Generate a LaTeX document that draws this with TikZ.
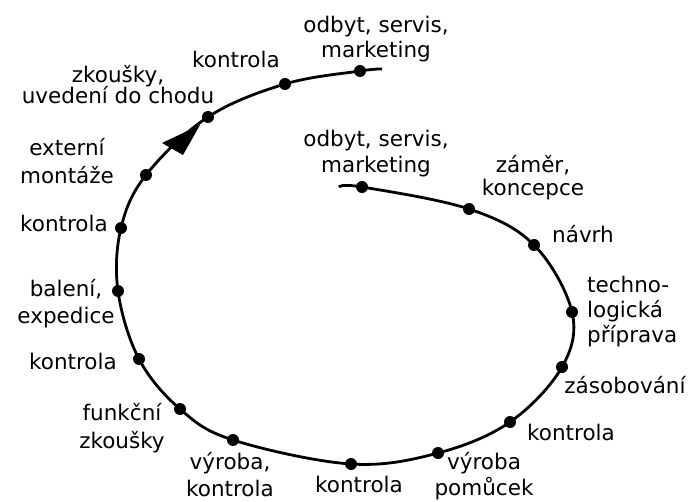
\documentclass[tikz,border=0pt]{standalone}
\usepackage{fontspec}
\setmainfont{DejaVu Sans}
\begin{document}
\begin{tikzpicture}[x=1pt,y=-1pt,
  dot/.style={circle,fill=black,inner sep=0pt,minimum size=12pt},
  lbl/.style={inner sep=0pt,align=center,anchor=base,text=black,
              font=\fontsize{21.5}{25}\selectfont},
  spiral/.style={line width=2.8pt,line join=round,line cap=butt}]
\useasboundingbox (0,0) rectangle (695,502);

% stations along the spiral, from the inner start outwards
\node[dot] (d1)  at (362,187) {};
\node[dot] (d2)  at (469,209) {};
\node[dot] (d3)  at (534,245) {};
\node[dot] (d4)  at (572,312) {};
\node[dot] (d5)  at (562,367) {};
\node[dot] (d6)  at (510,422) {};
\node[dot] (d7)  at (438,453) {};
\node[dot] (d8)  at (351,464) {};
\node[dot] (d9)  at (233,440) {};
\node[dot] (d10) at (180,409) {};
\node[dot] (d11) at (139,359) {};
\node[dot] (d12) at (118,291) {};
\node[dot] (d13) at (121,228) {};
\node[dot] (d14) at (146,175) {};
\node[dot] (d15) at (208,117) {};
\node[dot] (d16) at (285,84)  {};
\node[dot] (d17) at (360,71)  {};
\coordinate (start) at (339,187);
\coordinate (finish) at (382,69);

% the spiral itself
\draw[spiral] plot[smooth,tension=0.6] coordinates {
  (start) (d1.center) (d2.center) (d3.center) (d4.center) (d5.center)
  (d6.center) (d7.center) (d8.center) (d9.center) (d10.center)
  (d11.center) (d12.center) (d13.center) (d14.center) (d15.center)
  (d16.center) (d17.center) (finish)};

% direction arrow
\coordinate (tip) at (200,125);
\fill (tip) -- ++(-38,18) -- ++(21,12) -- cycle;

% labels (anchored at the baseline of their last line)
\node[lbl] (l1)  at (376,58)  {odbyt, servis,\\marketing};
\node[lbl] (l2)  at (236,68)  {kontrola};
\node[lbl] (l3)  at (118,104) {zkoušky,\\[-4pt]uvedení do chodu};
\node[lbl] (l4)  at (67,184)  {externí\\[3pt]montáže};
\node[lbl] (l5)  at (64,232)  {kontrola};
\node[lbl] (l6)  at (66,323)  {balení,\\[2pt]expedice};
\node[lbl] (l7)  at (73,369)  {kontrola};
\node[lbl] (l8)  at (122,448) {funkční\\[3pt]zkoušky};
\node[lbl] (l9)  at (230,496) {výroba,\\[2pt]kontrola};
\node[lbl] (l10) at (359,492) {kontrola};
\node[lbl] (l11) at (484,495) {výroba\\[1pt]pomůcek};
\node[lbl] (l12) at (571,440) {kontrola};
\node[lbl] (l13) at (625,393) {zásobování};
\node[lbl,anchor=base west,align=left] (l14) at (587,342) {techno-\\logická\\příprava};
\node[lbl] (l15) at (583,243) {návrh};
\node[lbl] (l16) at (533,196) {záměr,\\[-2pt]koncepce};
\node[lbl] (l17) at (376,173) {odbyt, servis,\\[1pt]marketing};
\end{tikzpicture}
\end{document}
